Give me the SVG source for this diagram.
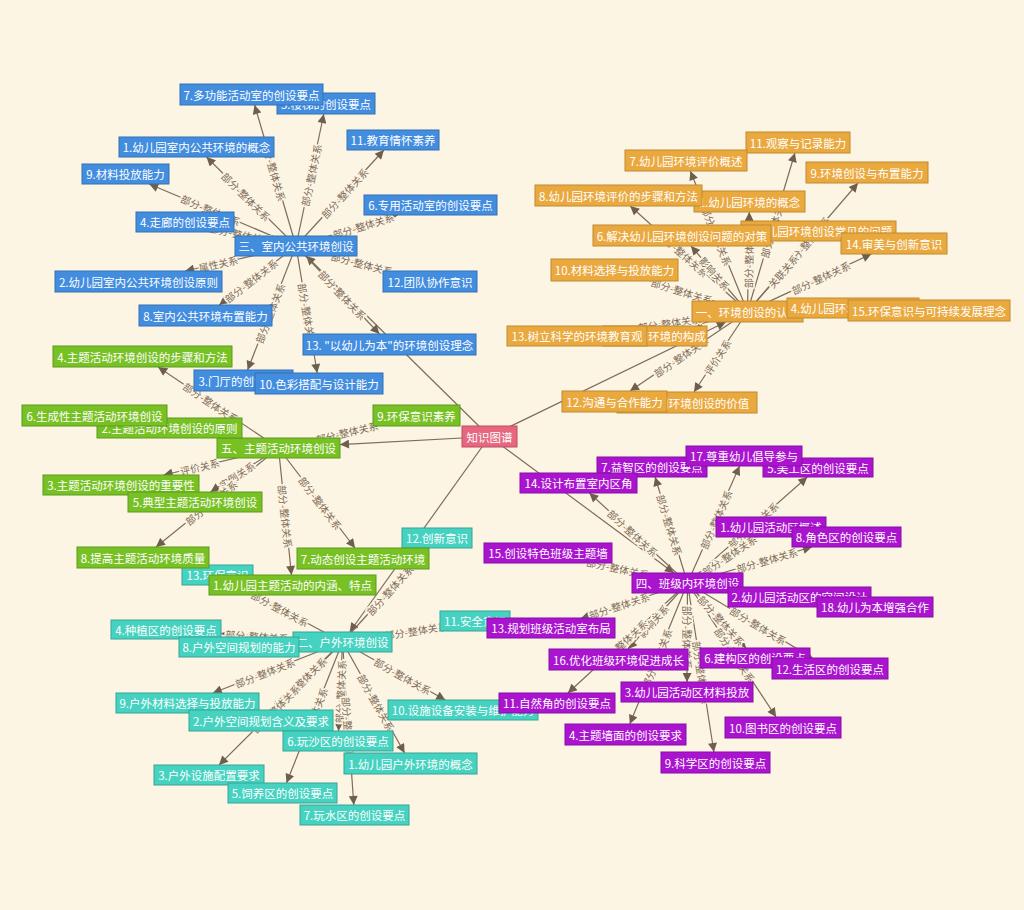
<svg xmlns="http://www.w3.org/2000/svg" width="1024" height="910" viewBox="0 0 1024 910">
<style>
.e{stroke:#7d6c5a;stroke-width:1.2;fill:none;marker-end:url(#a)}
.k{stroke:#7d6c5a;stroke-width:1.2;fill:none;marker-end:url(#a)}
.l{font-family:"Noto Sans CJK SC","Noto Sans",sans-serif;font-size:10px;fill:#7d6b58;stroke:#fdf5e3;stroke-width:3px;paint-order:stroke;text-anchor:middle;dominant-baseline:central}
.n text{font-family:"Noto Sans CJK SC","Noto Sans",sans-serif;font-size:11.5px;fill:#ffffff;text-anchor:middle;dominant-baseline:central}
.n rect{stroke-width:1}
.b rect{fill:#438ddf;stroke:#3470b4}
.o rect{fill:#eaa93f;stroke:#bf8a32}
.g rect{fill:#78c125;stroke:#5c9a1c}
.t rect{fill:#46d2c0;stroke:#35a697}
.p rect{fill:#aa14cf;stroke:#870fa6}
.c rect{fill:#e6677f;stroke:#c04d65}
</style>
<defs>
<marker id="a" viewBox="0 0 10 10" refX="10" refY="5" markerWidth="10" markerHeight="9" markerUnits="userSpaceOnUse" orient="auto"><path d="M0,0 L10,5 L0,10 z" fill="#6f5e4c"/></marker>
</defs>
<rect x="0" y="0" width="1024" height="910" fill="#fdf5e3"/>
<g id="connectors">
<!-- knowledge graph root -->
<line class="k" x1="489.5" y1="436.5" x2="306.2" y2="256"/>
<line class="k" x1="489.5" y1="436.5" x2="725.8" y2="322"/>
<line class="k" x1="489.5" y1="436.5" x2="340" y2="444.6"/>
<line class="k" x1="489.5" y1="436.5" x2="349.7" y2="632"/>
<line class="k" x1="489.5" y1="436.5" x2="674" y2="573"/>
<!-- blue hub -->
<line class="e" x1="296" y1="246" x2="254.6" y2="105"/>
<line class="e" x1="296" y1="246" x2="323.8" y2="114"/>
<line class="e" x1="296" y1="246" x2="383.9" y2="150"/>
<line class="e" x1="296" y1="246" x2="206.5" y2="157"/>
<line class="e" x1="296" y1="246" x2="149.2" y2="184"/>
<line class="e" x1="296" y1="246" x2="397.7" y2="215"/>
<line class="e" x1="296" y1="246" x2="231.3" y2="232"/>
<line class="e" x1="296" y1="246" x2="185.1" y2="271"/>
<line class="e" x1="296" y1="246" x2="390.4" y2="271"/>
<line class="e" x1="296" y1="246" x2="219.2" y2="305"/>
<line class="e" x1="296" y1="246" x2="379.5" y2="334"/>
<line class="e" x1="296" y1="246" x2="247.6" y2="370"/>
<line class="e" x1="296" y1="246" x2="317.2" y2="373"/>
<text class="l" x="273.8" y="170.5" transform="rotate(73.7 273.8 170.5)">部分-整体关系</text>
<text class="l" x="311" y="175" transform="rotate(-78.1 311 175)">部分-整体关系</text>
<text class="l" x="344.5" y="193" transform="rotate(-47.5 344.5 193)">部分-整体关系</text>
<text class="l" x="246.3" y="196.5" transform="rotate(44.8 246.3 196.5)">部分-整体关系</text>
<text class="l" x="210.8" y="210" transform="rotate(22.9 210.8 210)">部分-整体关系</text>
<text class="l" x="363.3" y="225.5" transform="rotate(-17 363.3 225.5)">部分-整体关系</text>
<text class="l" x="240.5" y="234" transform="rotate(12.3 240.5 234)">部分-整体关系</text>
<text class="l" x="218.3" y="263.5" transform="rotate(-12.7 218.3 263.5)">属性关系</text>
<text class="l" x="362" y="263.5" transform="rotate(14.8 362 263.5)">部分-整体关系</text>
<text class="l" x="251" y="280.5" transform="rotate(-37.5 251 280.5)">部分-整体关系</text>
<text class="l" x="342.5" y="295" transform="rotate(46.5 342.5 295)">部分-整体关系</text>
<text class="l" x="269.9" y="313" transform="rotate(-68.7 269.9 313)">部分-整体关系</text>
<text class="l" x="307.5" y="314.5" transform="rotate(80.5 307.5 314.5)">部分-整体关系</text>
<!-- orange hub -->
<line class="e" x1="747.5" y1="311.5" x2="794.9" y2="153"/>
<line class="e" x1="747.5" y1="311.5" x2="690.3" y2="171"/>
<line class="e" x1="747.5" y1="311.5" x2="858" y2="183"/>
<line class="e" x1="747.5" y1="311.5" x2="630.2" y2="206"/>
<line class="e" x1="747.5" y1="311.5" x2="749.3" y2="212"/>
<line class="e" x1="747.5" y1="311.5" x2="809.7" y2="241"/>
<line class="e" x1="747.5" y1="311.5" x2="691" y2="246"/>
<line class="e" x1="747.5" y1="311.5" x2="871.4" y2="254"/>
<line class="e" x1="747.5" y1="311.5" x2="649.7" y2="281"/>
<line class="e" x1="747.5" y1="311.5" x2="787" y2="310.2"/>
<line class="e" x1="747.5" y1="311.5" x2="848" y2="310.5"/>
<line class="e" x1="747.5" y1="311.5" x2="692.7" y2="326"/>
<line class="e" x1="747.5" y1="311.5" x2="646.6" y2="326"/>
<line class="e" x1="747.5" y1="311.5" x2="630" y2="391"/>
<line class="e" x1="747.5" y1="311.5" x2="694" y2="392"/>
<text class="l" x="772.8" y="227" transform="rotate(-73.3 772.8 227)">部分-整体关系</text>
<text class="l" x="716.8" y="236" transform="rotate(67.9 716.8 236)">部分-整体关系</text>
<text class="l" x="807.3" y="242" transform="rotate(-49.3 807.3 242)">部分-整体关系</text>
<text class="l" x="683" y="253.5" transform="rotate(42 683 253.5)">部分-整体关系</text>
<text class="l" x="748.5" y="256.5" transform="rotate(-89 748.5 256.5)">部分-整体关系</text>
<text class="l" x="783" y="271" transform="rotate(-48.6 783 271)">关联关系</text>
<text class="l" x="714.8" y="273.5" transform="rotate(49.2 714.8 273.5)">影响关系</text>
<text class="l" x="820.8" y="277.5" transform="rotate(-24.9 820.8 277.5)">部分-整体关系</text>
<text class="l" x="681.8" y="291" transform="rotate(17.3 681.8 291)">部分-整体关系</text>
<text class="l" x="669.3" y="322.8" transform="rotate(-8.1 669.3 322.8)">部分-整体关系</text>
<text class="l" x="681" y="356.5" transform="rotate(-34.1 681 356.5)">部分-整体关系</text>
<text class="l" x="717.3" y="357" transform="rotate(-56.4 717.3 357)">评价关系</text>
<!-- green hub -->
<line class="e" x1="278.5" y1="448" x2="153.9" y2="426"/>
<line class="e" x1="278.5" y1="448" x2="158.1" y2="367"/>
<line class="e" x1="278.5" y1="448" x2="373" y2="425.7"/>
<line class="e" x1="278.5" y1="448" x2="163.6" y2="475"/>
<line class="e" x1="278.5" y1="448" x2="210.5" y2="492"/>
<line class="e" x1="278.5" y1="448" x2="156" y2="547"/>
<line class="e" x1="278.5" y1="448" x2="291.5" y2="575"/>
<line class="e" x1="278.5" y1="448" x2="355" y2="548"/>
<text class="l" x="210.9" y="402.5" transform="rotate(33.9 210.9 402.5)">部分-整体关系</text>
<text class="l" x="347" y="432" transform="rotate(-13.3 347 432)">部分-整体关系</text>
<text class="l" x="199.8" y="466.5" transform="rotate(-13.2 199.8 466.5)">评价关系</text>
<text class="l" x="236.8" y="475" transform="rotate(-32.9 236.8 475)">实例关系</text>
<text class="l" x="211" y="502.5" transform="rotate(-39 211 502.5)">部分-整体关系</text>
<text class="l" x="285.5" y="516.5" transform="rotate(84.1 285.5 516.5)">部分-整体关系</text>
<text class="l" x="320.5" y="503" transform="rotate(52.6 320.5 503)">部分-整体关系</text>
<!-- teal hub -->
<line class="e" x1="342.5" y1="642" x2="427.9" y2="548"/>
<line class="e" x1="342.5" y1="642" x2="236.1" y2="585"/>
<line class="e" x1="342.5" y1="642" x2="221" y2="633.4"/>
<line class="e" x1="342.5" y1="642" x2="440" y2="626.5"/>
<line class="e" x1="342.5" y1="642" x2="212.9" y2="693"/>
<line class="e" x1="342.5" y1="642" x2="271.9" y2="710"/>
<line class="e" x1="342.5" y1="642" x2="219" y2="765"/>
<line class="e" x1="342.5" y1="642" x2="338.5" y2="731"/>
<line class="e" x1="342.5" y1="642" x2="286.5" y2="783"/>
<line class="e" x1="342.5" y1="642" x2="353.8" y2="805"/>
<line class="e" x1="342.5" y1="642" x2="404.6" y2="753"/>
<line class="e" x1="342.5" y1="642" x2="445.3" y2="700"/>
<text class="l" x="389.8" y="590" transform="rotate(-47.8 389.8 590)">部分-整体关系</text>
<text class="l" x="280" y="608.5" transform="rotate(28.2 280 608.5)">部分-整体关系</text>
<text class="l" x="257" y="636" transform="rotate(4.1 257 636)">部分-整体关系</text>
<text class="l" x="416" y="630.4" transform="rotate(-9.1 416 630.4)">部分-整体关系</text>
<text class="l" x="265" y="672.5" transform="rotate(-21.5 265 672.5)">部分-整体关系</text>
<text class="l" x="302" y="681" transform="rotate(-43.9 302 681)">部分-整体关系</text>
<text class="l" x="275.7" y="708.5" transform="rotate(-44.9 275.7 708.5)">部分-整体关系</text>
<text class="l" x="340.2" y="691.5" transform="rotate(-87.5 340.2 691.5)">部分-整体关系</text>
<text class="l" x="312.5" y="717.5" transform="rotate(-68.4 312.5 717.5)">部分-整体关系</text>
<text class="l" x="348.5" y="728.5" transform="rotate(86 348.5 728.5)">部分-整体关系</text>
<text class="l" x="376.4" y="702.5" transform="rotate(60.8 376.4 702.5)">部分-整体关系</text>
<text class="l" x="402.8" y="676" transform="rotate(29.4 402.8 676)">部分-整体关系</text>
<!-- purple hub -->
<line class="e" x1="687.5" y1="583" x2="739.6" y2="466"/>
<line class="e" x1="687.5" y1="583" x2="655.1" y2="477"/>
<line class="e" x1="687.5" y1="583" x2="807.3" y2="477"/>
<line class="e" x1="687.5" y1="583" x2="589.4" y2="493"/>
<line class="e" x1="687.5" y1="583" x2="756.1" y2="537"/>
<line class="e" x1="687.5" y1="583" x2="812" y2="547"/>
<line class="e" x1="687.5" y1="583" x2="594.5" y2="563"/>
<line class="e" x1="687.5" y1="583" x2="728" y2="588.1"/>
<line class="e" x1="687.5" y1="583" x2="817" y2="599.6"/>
<line class="e" x1="687.5" y1="583" x2="581.3" y2="618"/>
<line class="e" x1="687.5" y1="583" x2="628" y2="649"/>
<line class="e" x1="687.5" y1="583" x2="567.9" y2="693"/>
<line class="e" x1="687.5" y1="583" x2="629.8" y2="724"/>
<line class="e" x1="687.5" y1="583" x2="687" y2="682"/>
<line class="e" x1="687.5" y1="583" x2="713.9" y2="752"/>
<line class="e" x1="687.5" y1="583" x2="746" y2="648"/>
<line class="e" x1="687.5" y1="583" x2="812.5" y2="658"/>
<line class="e" x1="687.5" y1="583" x2="776.1" y2="717"/>
<text class="l" x="715.8" y="519.5" transform="rotate(-66 715.8 519.5)">部分-整体关系</text>
<text class="l" x="669.8" y="525" transform="rotate(73 669.8 525)">部分-整体关系</text>
<text class="l" x="753" y="525" transform="rotate(-41.5 753 525)">部分-整体关系</text>
<text class="l" x="633" y="533" transform="rotate(42.5 633 533)">部分-整体关系</text>
<text class="l" x="729.3" y="555" transform="rotate(-33.8 729.3 555)">部分-整体关系</text>
<text class="l" x="767" y="560" transform="rotate(-16.1 767 560)">部分-整体关系</text>
<text class="l" x="617.8" y="568" transform="rotate(12.1 617.8 568)">部分-整体关系</text>
<text class="l" x="619.3" y="605.5" transform="rotate(-18.2 619.3 605.5)">部分-整体关系</text>
<text class="l" x="653.2" y="621" transform="rotate(-47.9 653.2 621)">影响关系</text>
<text class="l" x="622.3" y="643" transform="rotate(-42.6 622.3 643)">部分-整体关系</text>
<text class="l" x="656.6" y="658.5" transform="rotate(-67.7 656.6 658.5)">部分-整体关系</text>
<text class="l" x="687.3" y="637.5" transform="rotate(90 687.3 637.5)">部分-整体关系</text>
<text class="l" x="701.5" y="672.5" transform="rotate(81.1 701.5 672.5)">部分-整体关系</text>
<text class="l" x="721.3" y="620.5" transform="rotate(48 721.3 620.5)">部分-整体关系</text>
<text class="l" x="758.4" y="625.5" transform="rotate(31 758.4 625.5)">部分-整体关系</text>
<text class="l" x="735.1" y="655" transform="rotate(56.5 735.1 655)">部分-整体关系</text>
</g>
<!-- teal nodes -->
<g id="t12" class="n t"><rect x="402" y="528" width="70" height="20"/><text x="437" y="538">12.创新意识</text></g>
<g id="t13" class="n t"><rect x="182" y="565" width="71" height="20"/><text x="217.5" y="575">13.环保意识</text></g>
<g id="t4" class="n t"><rect x="111" y="620" width="110" height="19"/><text x="166" y="629.5">4.种植区的创设要点</text></g>
<g id="t11" class="n t"><rect x="440" y="611" width="70" height="20"/><text x="475" y="621">11.安全意识</text></g>
<g id="t0" class="n t"><rect x="293" y="632" width="99" height="20"/><text x="342.5" y="642">二、户外环境创设</text></g>
<g id="t8" class="n t"><rect x="179" y="637" width="120" height="20"/><text x="239" y="647">8.户外空间规划的能力</text></g>
<g id="t9" class="n t"><rect x="116" y="693" width="143" height="20"/><text x="187.5" y="703">9.户外材料选择与投放能力</text></g>
<g id="t10" class="n t"><rect x="388" y="700" width="150" height="20"/><text x="463" y="710">10.设施设备安装与维护能力</text></g>
<g id="t2" class="n t"><rect x="189" y="710" width="144" height="21"/><text x="261" y="720.5">2.户外空间规划含义及要求</text></g>
<g id="t6" class="n t"><rect x="283" y="731" width="110" height="20"/><text x="338" y="741">6.玩沙区的创设要点</text></g>
<g id="t1" class="n t"><rect x="344" y="753" width="133" height="21"/><text x="410.5" y="763.5">1.幼儿园户外环境的概念</text></g>
<g id="t3" class="n t"><rect x="154" y="765" width="110" height="20"/><text x="209" y="775">3.户外设施配置要求</text></g>
<g id="t5" class="n t"><rect x="228" y="783" width="109" height="20"/><text x="282.5" y="793">5.饲养区的创设要点</text></g>
<g id="t7" class="n t"><rect x="300" y="805" width="109" height="20"/><text x="354.5" y="815">7.玩水区的创设要点</text></g>
<!-- green nodes -->
<g id="g0" class="n g"><rect x="217" y="438" width="123" height="20"/><text x="278.5" y="448">五、主题活动环境创设</text></g>
<g id="g2" class="n g"><rect x="97" y="418" width="145" height="20"/><text x="169.5" y="428">2.主题活动环境创设的原则</text></g>
<g id="g6" class="n g"><rect x="22" y="405" width="145" height="21"/><text x="94.5" y="415.5">6.生成性主题活动环境创设</text></g>
<g id="g4" class="n g"><rect x="53" y="346" width="179" height="21"/><text x="142.5" y="356.5">4.主题活动环境创设的步骤和方法</text></g>
<g id="g9" class="n g"><rect x="373" y="405" width="87" height="21"/><text x="416.5" y="415.5">9.环保意识素养</text></g>
<g id="g3" class="n g"><rect x="43" y="475" width="156" height="20"/><text x="121" y="485">3.主题活动环境创设的重要性</text></g>
<g id="g5" class="n g"><rect x="128" y="492" width="134" height="20"/><text x="195" y="502">5.典型主题活动环境创设</text></g>
<g id="g8" class="n g"><rect x="77" y="547" width="132" height="21"/><text x="143" y="557.5">8.提高主题活动环境质量</text></g>
<g id="g7" class="n g"><rect x="297" y="548" width="132" height="21"/><text x="363" y="558.5">7.动态创设主题活动环境</text></g>
<g id="g1" class="n g"><rect x="209" y="575" width="167" height="20"/><text x="292.5" y="585">1.幼儿园主题活动的内涵、特点</text></g>
<!-- blue nodes -->
<g id="b5" class="n b"><rect x="277" y="93" width="98" height="21"/><text x="326" y="103.5">5.楼梯的创设要点</text></g>
<g id="b7" class="n b"><rect x="180" y="84" width="143" height="21"/><text x="251.5" y="94.5">7.多功能活动室的创设要点</text></g>
<g id="b11" class="n b"><rect x="347" y="130" width="92" height="20"/><text x="393" y="140">11.教育情怀素养</text></g>
<g id="b1" class="n b"><rect x="119" y="137" width="155" height="20"/><text x="196.5" y="147">1.幼儿园室内公共环境的概念</text></g>
<g id="b9" class="n b"><rect x="82" y="164" width="87" height="20"/><text x="125.5" y="174">9.材料投放能力</text></g>
<g id="b6" class="n b"><rect x="364" y="195" width="133" height="20"/><text x="430.5" y="205">6.专用活动室的创设要点</text></g>
<g id="b4" class="n b"><rect x="136" y="212" width="98" height="20"/><text x="185" y="222">4.走廊的创设要点</text></g>
<g id="b0" class="n b"><rect x="235" y="236" width="122" height="20"/><text x="296" y="246">三、室内公共环境创设</text></g>
<g id="b2" class="n b"><rect x="55" y="271" width="167" height="21"/><text x="138.5" y="281.5">2.幼儿园室内公共环境创设原则</text></g>
<g id="b12" class="n b"><rect x="383" y="271" width="94" height="21"/><text x="430" y="281.5">12.团队协作意识</text></g>
<g id="b8" class="n b"><rect x="139" y="305" width="133" height="21"/><text x="205.5" y="315.5">8.室内公共环境布置能力</text></g>
<g id="b13" class="n b"><rect x="303" y="334" width="173" height="21"/><text x="389.5" y="344.5">13. &quot;以幼儿为本&quot;的环境创设理念</text></g>
<g id="b3" class="n b"><rect x="194" y="370" width="99" height="21"/><text x="243.5" y="380.5">3.门厅的创设要点</text></g>
<g id="b10" class="n b"><rect x="255" y="373" width="128" height="21"/><text x="319" y="383.5">10.色彩搭配与设计能力</text></g>
<!-- orange nodes -->
<g id="o11" class="n o"><rect x="746" y="132" width="104" height="21"/><text x="798" y="142.5">11.观察与记录能力</text></g>
<g id="o7" class="n o"><rect x="625" y="150" width="122" height="21"/><text x="686" y="160.5">7.幼儿园环境评价概述</text></g>
<g id="o9" class="n o"><rect x="806" y="162" width="122" height="21"/><text x="867" y="172.5">9.环境创设与布置能力</text></g>
<g id="o1" class="n o"><rect x="694" y="191" width="111" height="21"/><text x="749.5" y="201.5">1.幼儿园环境的概念</text></g>
<g id="o8" class="n o"><rect x="535" y="185" width="167" height="21"/><text x="618.5" y="195.5">8.幼儿园环境评价的步骤和方法</text></g>
<g id="o5" class="n o"><rect x="741" y="221" width="155" height="20"/><text x="818.5" y="231">5.幼儿园环境创设常见的问题</text></g>
<g id="o6" class="n o"><rect x="593" y="225" width="178" height="21"/><text x="682" y="235.5">6.解决幼儿园环境创设问题的对策</text></g>
<g id="o14" class="n o"><rect x="841" y="233" width="106" height="21"/><text x="894" y="243.5">14.审美与创新意识</text></g>
<g id="o10" class="n o"><rect x="551" y="259" width="127" height="22"/><text x="614.5" y="270">10.材料选择与投放能力</text></g>
<g id="o0" class="n o"><rect x="692" y="301" width="111" height="21"/><text x="747.5" y="311.5">一、环境创设的认识</text></g>
<g id="o4" class="n o"><rect x="787" y="298" width="132" height="20"/><text x="853" y="308">4.幼儿园环境创设的原则</text></g>
<g id="o15" class="n o"><rect x="848" y="300" width="162" height="21"/><text x="929" y="310.5">15.环保意识与可持续发展理念</text></g>
<g id="o3" class="n o"><rect x="603" y="326" width="104" height="20"/><text x="655" y="336">3.幼儿园环境的构成</text></g>
<g id="o13" class="n o"><rect x="507" y="326" width="140" height="20"/><text x="577" y="336">13.树立科学的环境教育观</text></g>
<g id="o2" class="n o"><rect x="617" y="392" width="140" height="21"/><text x="687" y="402.5">2.幼儿园环境创设的价值</text></g>
<g id="o12" class="n o"><rect x="562" y="391" width="105" height="21"/><text x="614.5" y="401.5">12.沟通与合作能力</text></g>
<!-- purple nodes -->
<g id="p7" class="n p"><rect x="597" y="457" width="110" height="20"/><text x="652" y="467">7.益智区的创设要点</text></g>
<g id="p5" class="n p"><rect x="763" y="458" width="110" height="19"/><text x="818" y="467.5">5.美工区的创设要点</text></g>
<g id="p17" class="n p"><rect x="686" y="446" width="116" height="20"/><text x="744" y="456">17.尊重幼儿倡导参与</text></g>
<g id="p14" class="n p"><rect x="520" y="473" width="117" height="20"/><text x="578.5" y="483">14.设计布置室内区角</text></g>
<g id="p1" class="n p"><rect x="716" y="517" width="110" height="20"/><text x="771" y="527">1.幼儿园活动区概述</text></g>
<g id="p8" class="n p"><rect x="792" y="527" width="109" height="20"/><text x="846.5" y="537">8.角色区的创设要点</text></g>
<g id="p15" class="n p"><rect x="484" y="543" width="128" height="20"/><text x="548" y="553">15.创设特色班级主题墙</text></g>
<g id="p0" class="n p"><rect x="632" y="573" width="111" height="20"/><text x="687.5" y="583">四、班级内环境创设</text></g>
<g id="p2" class="n p"><rect x="728" y="587" width="143" height="20"/><text x="799.5" y="597">2.幼儿园活动区的空间设计</text></g>
<g id="p18" class="n p"><rect x="817" y="597" width="116" height="20"/><text x="875" y="607">18.幼儿为本增强合作</text></g>
<g id="p13" class="n p"><rect x="487" y="618" width="128" height="20"/><text x="551" y="628">13.规划班级活动室布局</text></g>
<g id="p16" class="n p"><rect x="549" y="649" width="139" height="21"/><text x="618.5" y="659.5">16.优化班级环境促进成长</text></g>
<g id="p6" class="n p"><rect x="700" y="648" width="110" height="20"/><text x="755" y="658">6.建构区的创设要点</text></g>
<g id="p12" class="n p"><rect x="772" y="658" width="116" height="21"/><text x="830" y="668.5">12.生活区的创设要点</text></g>
<g id="p3" class="n p"><rect x="621" y="682" width="132" height="20"/><text x="687" y="692">3.幼儿园活动区材料投放</text></g>
<g id="p11" class="n p"><rect x="499" y="693" width="116" height="20"/><text x="557" y="703">11.自然角的创设要点</text></g>
<g id="p4" class="n p"><rect x="565" y="724" width="121" height="21"/><text x="625.5" y="734.5">4.主题墙面的创设要求</text></g>
<g id="p10" class="n p"><rect x="725" y="717" width="116" height="21"/><text x="783" y="727.5">10.图书区的创设要点</text></g>
<g id="p9" class="n p"><rect x="661" y="752" width="109" height="21"/><text x="715.5" y="762.5">9.科学区的创设要点</text></g>
<!-- root -->
<g id="root" class="n c"><rect x="462" y="426" width="55" height="21"/><text x="489.5" y="436.5">知识图谱</text></g>
</svg>
